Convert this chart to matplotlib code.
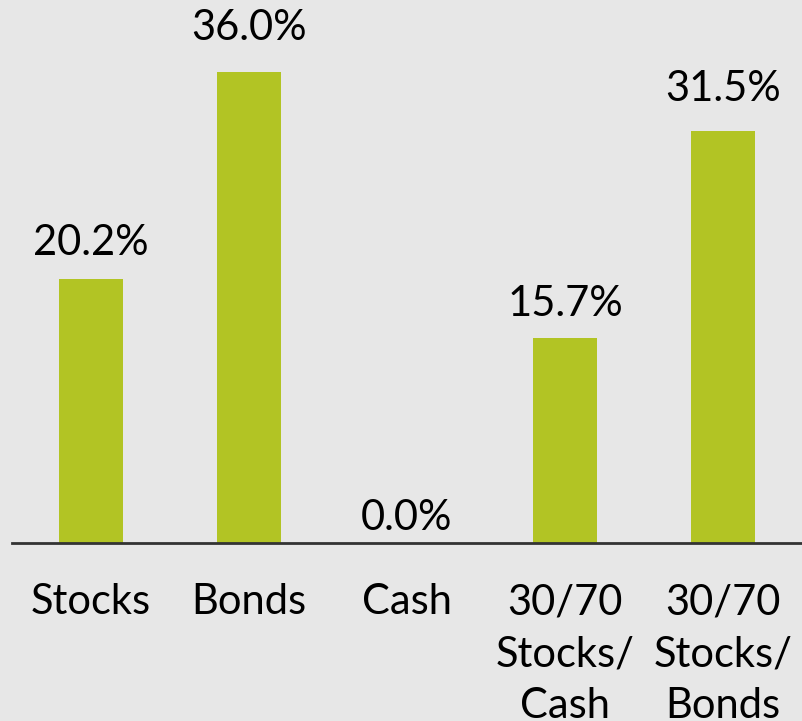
import matplotlib
matplotlib.use("Agg")
import matplotlib.pyplot as plt

categories = ["Stocks", "Bonds", "Cash", "30/70\nStocks/\nCash", "30/70\nStocks/\nBonds"]
values = [20.2, 36.0, 0.0, 15.7, 31.5]
value_labels = ["20.2%", "36.0%", "0.0%", "15.7%", "31.5%"]

plt.rcParams['font.family'] = ['Lato', 'DejaVu Sans']

bg = "#e7e7e7"
bar_color = "#b2c424"

fig = plt.figure(figsize=(8.02, 7.21), dpi=100, facecolor=bg)
ax = fig.add_axes([12/802, (721-543)/721, 1 - 12/802, 543/721])
ax.set_facecolor(bg)

x = list(range(len(categories)))
ax.bar(x, values, width=0.4, color=bar_color)
ax.set_xlim(-0.5, 4.5)
ax.set_ylim(0, 41.5)

for xi, v, lab in zip(x, values, value_labels):
    gap_pt = (13 + 0.52 * v) * 0.72  # gap in points (grows slightly with bar height)
    ax.annotate(lab, (xi, v), xytext=(0, gap_pt), textcoords="offset points",
                ha="center", va="baseline", fontsize=30, color="#000000")

ax.set_xticks(x)
ax.set_xticklabels(categories, fontsize=30, color="#000000", linespacing=1.45)
ax.tick_params(axis="x", length=0, pad=29)
ax.set_yticks([])
for s in ["top", "left", "right"]:
    ax.spines[s].set_visible(False)
ax.spines["bottom"].set_color("#333333")
ax.spines["bottom"].set_linewidth(2)

fig.savefig("out.png", dpi=100, facecolor=bg)
